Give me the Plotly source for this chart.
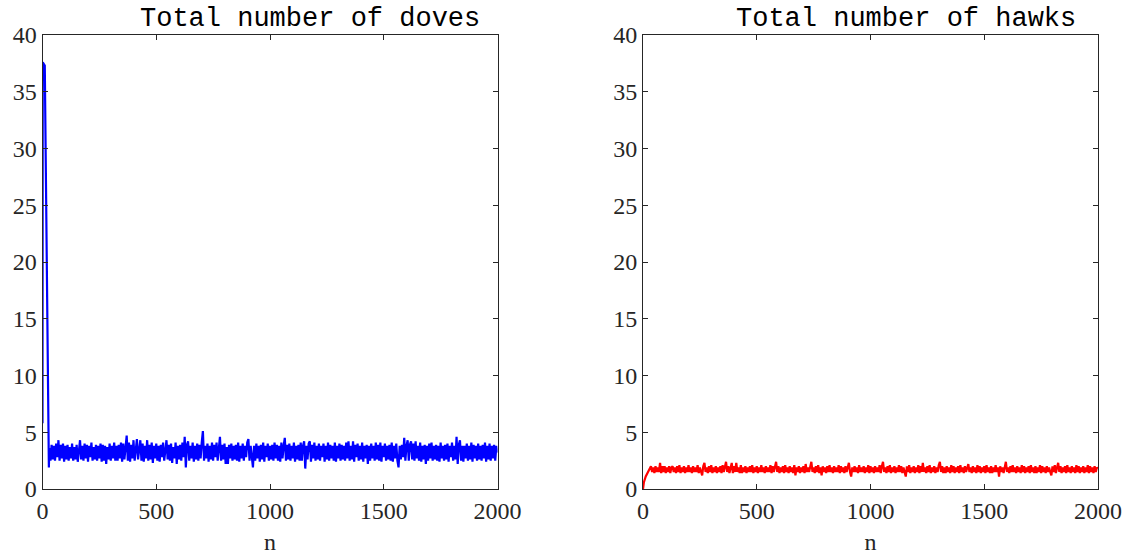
import plotly.graph_objects as go

# ---- data -------------------------------------------------------------
# Doves: start-up transient, then the noisy steady state sampled every 5 steps from n=30
dove_head_n = [0, 1, 10, 28]
dove_head_v = [5.8, 37.6, 37.3, 1.9]
dove_tail_start, dove_tail_step = 30, 5
dove_tail_v = [
    3.6, 2.5, 3.9, 2.6, 3.8, 2.5, 4.0, 2.8, 4.3, 2.5, 3.9, 2.7, 4.0, 2.4, 3.8, 2.6, 3.9, 2.5, 3.7, 2.7,
    4.0, 2.5, 3.7, 2.6, 3.9, 2.4, 3.8, 4.3, 2.6, 3.8, 2.5, 4.0, 2.7, 3.9, 2.4, 3.8, 2.8, 4.1, 2.5, 3.7,
    2.6, 3.9, 2.5, 3.8, 2.7, 4.0, 2.4, 3.9, 2.5, 3.8, 2.2, 3.7, 2.6, 4.0, 2.5, 3.8, 2.7, 4.1, 2.5, 3.8,
    2.5, 3.9, 2.7, 4.1, 2.4, 4.0, 2.6, 3.8, 4.7, 2.5, 4.1, 2.4, 3.9, 2.7, 4.3, 2.5, 3.9, 4.4, 2.6, 3.8,
    4.3, 2.5, 4.0, 2.4, 3.8, 2.7, 4.3, 2.5, 3.9, 2.6, 4.1, 2.3, 3.8, 2.7, 4.0, 2.5, 3.8, 2.4, 3.9, 2.8,
    4.1, 2.5, 3.8, 4.3, 2.6, 3.9, 2.5, 4.0, 2.3, 3.7, 2.7, 4.1, 2.2, 3.8, 2.6, 3.9, 2.5, 4.1, 2.8, 4.6,
    1.9, 3.9, 4.2, 2.5, 3.8, 2.7, 4.1, 2.4, 3.8, 2.6, 4.0, 2.5, 3.9, 2.7, 4.1, 5.1, 2.5, 3.8, 2.7, 4.0,
    2.4, 3.8, 2.6, 4.1, 2.5, 3.9, 2.8, 4.1, 2.5, 3.8, 4.6, 2.5, 3.9, 2.6, 4.0, 2.2, 3.7, 2.2, 3.9, 2.7,
    4.0, 2.5, 3.8, 2.6, 3.9, 2.5, 4.1, 2.4, 3.8, 2.7, 4.0, 2.5, 3.8, 2.8, 4.1, 4.4, 2.5, 3.8, 2.6, 1.9,
    3.8, 2.5, 4.0, 2.7, 3.8, 2.4, 3.9, 2.6, 4.1, 2.4, 3.8, 2.8, 4.0, 2.5, 3.8, 2.6, 3.9, 2.5, 4.1, 2.7,
    3.9, 2.5, 3.8, 2.4, 4.1, 2.7, 3.8, 4.5, 2.5, 3.9, 2.6, 4.0, 2.5, 3.8, 2.7, 4.1, 2.4, 3.8, 2.6, 3.9,
    2.5, 4.1, 2.5, 3.8, 4.2, 1.8, 3.8, 2.6, 4.0, 4.2, 2.4, 3.9, 2.7, 4.1, 2.5, 3.8, 2.6, 4.0, 2.5, 3.8,
    2.8, 4.0, 2.4, 3.8, 2.6, 4.1, 2.5, 3.9, 2.7, 3.8, 2.5, 4.1, 2.4, 3.8, 2.7, 4.0, 2.5, 3.9, 2.6, 3.8,
    2.5, 4.1, 2.7, 4.2, 2.5, 3.8, 2.6, 4.2, 2.4, 3.9, 2.8, 4.0, 2.5, 3.8, 2.6, 4.1, 2.4, 3.8, 2.7, 3.9,
    2.2, 3.8, 2.5, 4.0, 2.7, 3.8, 2.5, 4.1, 2.6, 3.9, 2.5, 4.1, 2.4, 3.8, 2.8, 4.0, 2.5, 3.8, 2.6, 3.9,
    2.5, 4.1, 2.4, 3.8, 2.7, 4.0, 2.5, 1.9, 3.8, 2.6, 3.9, 2.8, 4.5, 2.5, 3.8, 4.3, 2.5, 3.9, 4.2, 2.6,
    4.0, 2.5, 4.2, 2.7, 3.8, 2.5, 4.1, 2.4, 3.8, 2.6, 3.9, 2.2, 3.8, 2.5, 4.0, 2.7, 4.1, 2.5, 3.8, 2.6,
    3.9, 2.5, 3.8, 2.4, 4.1, 2.7, 3.8, 2.5, 3.9, 2.6, 4.0, 2.4, 3.8, 2.8, 4.1, 2.5, 3.8, 2.6, 4.6, 2.2,
    3.9, 4.3, 2.5, 3.8, 2.4, 3.8, 2.7, 4.0, 2.5, 3.8, 2.6, 4.1, 2.4, 3.9, 2.7, 3.8, 2.5, 4.0, 2.6, 3.8,
    2.5, 3.9, 2.7, 4.1, 2.4, 3.8, 2.6, 4.0, 2.5, 3.8, 2.7, 3.9, 2.5, 3.8, 3.2,
]

# Hawks: rise from zero, then noisy steady state sampled every 5 steps from n=35
hawk_head_n = [0, 4, 12, 22, 30]
hawk_head_v = [0.0, 0.6, 1.1, 1.5, 1.8]
hawk_tail_start, hawk_tail_step = 35, 5
hawk_tail_v = [
    2.0, 1.5, 1.9, 1.4, 2.0, 1.5, 1.9, 1.5, 2.3, 1.4, 2.0, 1.5, 2.0, 1.4, 1.9, 1.5, 2.0, 1.4, 1.9,
    2.0, 1.5, 1.9, 1.4, 2.0, 1.5, 2.1, 1.4, 1.9, 1.5, 2.0, 1.4, 1.9, 1.5, 2.1, 1.5, 1.9, 1.4, 2.0, 1.5,
    1.9, 1.5, 2.1, 1.4, 1.9, 1.5, 1.2, 2.0, 2.3, 1.5, 1.9, 1.4, 2.0, 1.5, 2.1, 1.4, 1.9, 1.5, 2.0, 1.4,
    1.9, 1.5, 2.0, 1.4, 2.1, 1.5, 1.9, 2.4, 1.5, 2.0, 1.4, 1.9, 2.3, 1.4, 2.0, 1.5, 2.3, 1.5, 1.9, 1.4,
    2.1, 1.4, 1.9, 1.5, 2.0, 1.4, 1.9, 1.5, 2.0, 1.5, 2.1, 1.4, 1.9, 1.5, 2.0, 1.4, 1.9, 1.5, 2.1, 1.5,
    1.9, 1.4, 2.0, 1.5, 1.9, 1.5, 2.1, 1.4, 2.0, 1.5, 1.9, 2.4, 1.5, 2.0, 1.4, 1.9, 1.5, 2.0, 1.4, 2.1,
    1.5, 1.9, 1.4, 2.0, 1.5, 1.9, 1.4, 2.1, 1.2, 1.9, 1.5, 2.0, 1.4, 1.9, 1.5, 2.0, 1.4, 2.2, 1.5, 1.9,
    1.5, 2.0, 2.4, 1.5, 1.9, 1.4, 2.0, 1.5, 2.1, 1.4, 1.9, 1.2, 2.0, 1.5, 1.9, 1.4, 2.0, 1.5, 2.1, 1.5,
    1.9, 1.4, 2.0, 1.5, 1.9, 1.5, 2.1, 1.4, 2.0, 1.5, 1.9, 1.4, 2.0, 1.5, 2.1, 2.3, 1.5, 1.1, 1.9, 1.5,
    2.0, 1.5, 1.9, 1.4, 2.1, 1.5, 1.9, 1.5, 2.0, 1.4, 1.9, 1.5, 2.1, 1.4, 2.0, 1.5, 1.9, 1.4, 2.0, 1.5,
    1.9, 1.5, 2.1, 1.4, 2.0, 2.4, 1.5, 1.9, 1.4, 2.0, 1.5, 2.1, 1.4, 1.9, 1.5, 2.0, 1.4, 1.9, 1.5, 2.1,
    1.5, 2.0, 1.4, 1.9, 1.5, 1.1, 2.0, 1.5, 2.1, 1.4, 1.9, 1.5, 2.0, 1.4, 1.9, 1.5, 2.1, 1.4, 2.0, 1.5,
    2.3, 1.5, 1.9, 1.4, 2.0, 1.5, 2.1, 1.4, 1.9, 1.5, 2.0, 1.4, 1.9, 1.5, 2.1, 2.4, 1.5, 2.0, 1.4, 1.9,
    1.4, 2.0, 1.5, 1.9, 1.4, 2.1, 1.5, 2.0, 1.4, 1.9, 1.5, 2.0, 1.4, 2.1, 1.5, 1.9, 1.4, 2.0, 1.5, 1.9,
    2.2, 1.5, 1.9, 1.4, 2.0, 1.5, 1.9, 1.4, 2.1, 1.5, 2.0, 1.4, 1.9, 1.5, 2.0, 1.4, 2.1, 1.5, 1.9, 1.4,
    2.0, 1.4, 1.9, 1.5, 2.1, 1.5, 1.9, 1.1, 2.0, 1.5, 1.9, 1.4, 2.0, 2.4, 1.5, 1.9, 1.4, 2.0, 1.5, 2.1,
    1.5, 1.9, 1.4, 2.0, 1.5, 1.9, 1.4, 2.1, 1.5, 2.0, 1.4, 1.9, 1.5, 2.0, 1.4, 2.1, 1.5, 1.9, 1.4, 2.0,
    1.4, 1.9, 1.5, 2.1, 1.4, 2.0, 1.5, 1.9, 1.4, 2.0, 1.5, 1.9, 1.5, 1.2, 2.0, 1.5, 2.1, 1.4, 1.9, 2.3,
    1.5, 2.0, 1.4, 1.9, 1.5, 2.0, 1.4, 2.1, 1.5, 1.9, 1.4, 2.0, 1.5, 1.9, 1.4, 2.1, 1.5, 2.0, 1.4, 1.9,
    1.5, 2.0, 1.4, 1.9, 1.5, 2.1, 1.4, 2.0, 1.5, 1.9, 1.4, 2.0, 1.5, 1.9, 1.8,
]

x_ticks = [0, 500, 1000, 1500, 2000]
y_ticks = [0, 5, 10, 15, 20, 25, 30, 35, 40]
titles = ["Total number of doves", "Total number of hawks"]
x_label = "n"

# ---- assemble series ----------------------------------------------------
dove_n = dove_head_n + [dove_tail_start + i * dove_tail_step for i in range(len(dove_tail_v))]
dove_v = dove_head_v + dove_tail_v
hawk_n = hawk_head_n + [hawk_tail_start + i * hawk_tail_step for i in range(len(hawk_tail_v))]
hawk_v = hawk_head_v + hawk_tail_v

W, H = 1128, 556
AX = "#262626"
tick_font = dict(family="Liberation Serif, Times New Roman, serif", size=24, color=AX)

fig = go.Figure()
fig.add_trace(go.Scatter(x=dove_n, y=dove_v, mode="lines",
                         line=dict(color="#0000ff", width=2.2), xaxis="x", yaxis="y"))
fig.add_trace(go.Scatter(x=hawk_n, y=hawk_v, mode="lines",
                         line=dict(color="#ff0000", width=2.2), xaxis="x2", yaxis="y2"))

def xax(domain):
    return dict(domain=domain, range=[0, 2000], tickvals=x_ticks, ticks="inside",
                ticklen=5, tickcolor=AX, tickwidth=1, showline=True, linecolor=AX,
                linewidth=1, mirror="allticks", showgrid=False, zeroline=False,
                automargin=False, tickfont=tick_font,
                title=dict(text=x_label, font=tick_font, standoff=10))

def yax(anchor):
    return dict(domain=[1 - 489 / H, 1 - 35 / H], range=[0, 40], tickvals=y_ticks,
                ticks="inside", ticklen=5, tickcolor=AX, tickwidth=1, showline=True,
                linecolor=AX, linewidth=1, mirror="allticks", showgrid=False,
                zeroline=False, automargin=False, tickfont=tick_font, anchor=anchor)

fig.update_layout(
    width=W, height=H, margin=dict(l=0, r=0, t=0, b=0, autoexpand=False),
    paper_bgcolor="white", plot_bgcolor="white", showlegend=False,
    xaxis=dict(xax([42.5 / W, 497.5 / W]), anchor="y"),
    yaxis=yax("x"),
    xaxis2=dict(xax([643 / W, 1098 / W]), anchor="y2"),
    yaxis2=yax("x2"),
)

title_font = dict(family="Courier New, Liberation Mono, monospace", size=27, color="#000000")
for cx, text in zip([310, 906], titles):
    fig.add_annotation(x=cx / W, y=1 - 19 / H, xref="paper", yref="paper",
                       text=text, showarrow=False, xanchor="center", yanchor="middle",
                       font=title_font)

fig.write_html("out.html")
